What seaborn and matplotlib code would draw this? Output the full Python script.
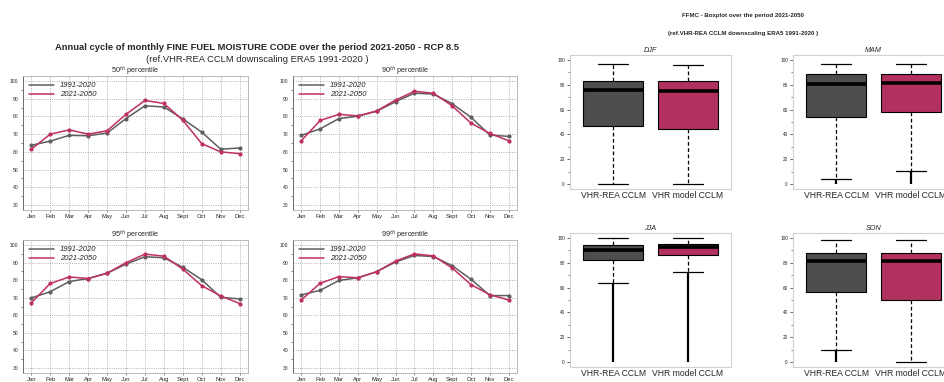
import numpy as np
import pandas as pd
import matplotlib
matplotlib.use('Agg')
import matplotlib.pyplot as plt
import seaborn as sns

# dati
months = ['Jan', 'Feb', 'Mar', 'Apr', 'May', 'Jun', 'Jul', 'Aug', 'Sept', 'Oct', 'Nov', 'Dec']
periods = ['1991-2020', '2021-2050']
pct_titles = ['50$^{th}$ percentile', '90$^{th}$ percentile', '95$^{th}$ percentile', '99$^{th}$ percentile']

p50_ref = [63.7, 66.1, 69.3, 69.1, 70.6, 78.8, 86.0, 85.3, 78.6, 71.1, 61.5, 62.2]
p50_fut = [61.5, 70.0, 72.4, 70.0, 71.9, 81.2, 89.0, 87.3, 77.8, 64.6, 60.0, 59.0]
p90_ref = [69.3, 73.0, 78.8, 80.1, 82.9, 88.3, 93.1, 92.6, 87.2, 79.5, 69.5, 68.7]
p90_fut = [66.3, 77.7, 81.2, 80.3, 83.1, 89.2, 94.2, 93.1, 86.0, 76.2, 70.4, 66.3]
p95_ref = [69.9, 73.4, 79.2, 80.9, 83.9, 89.1, 93.3, 92.7, 87.3, 80.2, 70.2, 69.3]
p95_fut = [67.1, 78.1, 81.8, 80.9, 83.9, 89.9, 94.8, 93.6, 86.2, 76.8, 71.0, 66.7]
p99_ref = [71.6, 74.2, 79.8, 81.3, 84.8, 90.3, 94.0, 93.4, 88.2, 80.5, 71.2, 71.2]
p99_fut = [68.7, 78.2, 82.0, 81.3, 84.8, 90.8, 94.9, 93.8, 86.9, 77.4, 71.7, 68.7]

seasons = ['DJF', 'MAM', 'JJA', 'SON']
box_labels = ['VHR-REA CCLM', 'VHR model CCLM']
# per stagione: [REA, model]
box_whislo = {'DJF': [0.0, 0.0], 'MAM': [3.8, 10.5], 'JJA': [63.8, 72.7], 'SON': [9.4, 0.0]}
box_q1 = {'DJF': [46.4, 44.5], 'MAM': [54.4, 57.7], 'JJA': [81.9, 85.9], 'SON': [56.8, 49.6]}
box_med = {'DJF': [75.5, 74.7], 'MAM': [80.9, 81.4], 'JJA': [90.5, 92.7], 'SON': [81.5, 81.8]}
box_q3 = {'DJF': [82.7, 82.7], 'MAM': [88.7, 88.9], 'JJA': [94.6, 94.9], 'SON': [88.2, 88.2]}
box_whishi = {'DJF': [96.8, 96.2], 'MAM': [97.0, 97.0], 'JJA': [100.0, 100.0], 'SON': [98.1, 98.1]}
box_outmin = {'DJF': [None, None], 'MAM': [0.0, 0.0], 'JJA': [0.0, 0.0], 'SON': [0.0, None]}

grey = '#5e5e5e'
red = '#c0305c'
box_grey = '#4d4d4d'
box_red = '#b03060'

sns.set_style('white')
plt.rcParams['font.family'] = ['Liberation Sans', 'DejaVu Sans']
plt.rcParams['mathtext.fontset'] = 'custom'
plt.rcParams['mathtext.rm'] = 'Liberation Sans'

fig = plt.figure(figsize=(9.44, 3.82), dpi=100)

W, H = 944, 382


def add_ax(x0, y0, x1, y1):
    return fig.add_axes([x0 / W, 1 - y1 / H, (x1 - x0) / W, (y1 - y0) / H])


# --- cicli annuali ---
line_pos = [(23, 76, 248, 210), (293, 76, 517, 210), (23, 240, 248, 373), (293, 240, 517, 373)]
line_data = [(p50_ref, p50_fut), (p90_ref, p90_fut), (p95_ref, p95_fut), (p99_ref, p99_fut)]

for pos, (ref, fut), ttl in zip(line_pos, line_data, pct_titles):
    ax = add_ax(*pos)
    df = pd.DataFrame({'month': list(range(1, 13)) * 2,
                       'value': ref + fut,
                       'period': [periods[0]] * 12 + [periods[1]] * 12})
    sns.lineplot(data=df, x='month', y='value', hue='period', palette=[grey, red],
                 marker='o', markersize=3, markeredgewidth=0, linewidth=1.1, ax=ax)
    ax.set_xlim(0.56, 12.44)
    ax.set_ylim(27.2, 102.8)
    ax.set_xticks(range(1, 13))
    ax.set_xticklabels(months, fontsize=4.2)
    ax.set_yticks(range(30, 101, 10))
    ax.set_yticks(range(35, 100, 10), minor=True)
    ax.tick_params(axis='y', labelsize=3.6, length=2, width=0.5, which='major', pad=1.5)
    ax.tick_params(axis='y', length=1.2, width=0.4, which='minor', left=True)
    ax.tick_params(axis='x', length=1.5, width=0.4, pad=1.5, bottom=True)
    ax.grid(True, linestyle=':', color='#9a9a9a', linewidth=0.6)
    for s in ax.spines.values():
        s.set_color('#b0b0b0')
        s.set_linewidth(0.6)
    ax.spines['left'].set_color('#555555')
    ax.set_xlabel('')
    ax.set_ylabel('')
    ax.set_title(ttl, fontsize=5.2, pad=2)
    leg = ax.legend(loc='upper left', frameon=False, prop={'size': 5.5, 'style': 'italic'},
                    handlelength=3.2, borderaxespad=0.4, labelspacing=0.2)
    for h in leg.legend_handles:
        h.set_marker('')

fig.text(257 / W, 1 - 47 / H, 'Annual cycle of monthly FINE FUEL MOISTURE CODE over the period 2021-2050 - RCP 8.5',
         ha='center', va='center', fontsize=6.75, fontweight='bold')
fig.text(257 / W, 1 - 59 / H, '(ref.VHR-REA CCLM downscaling ERA5 1991-2020 )',
         ha='center', va='center', fontsize=6.75)

# --- boxplot stagionali ---
box_pos = {'DJF': (570, 55, 731, 189), 'MAM': (793, 55, 954, 189),
           'JJA': (570, 233, 731, 367), 'SON': (793, 233, 954, 367)}

for s in seasons:
    ax = add_ax(*box_pos[s])
    stats = []
    for i in range(2):
        stats.append({'med': box_med[s][i], 'q1': box_q1[s][i], 'q3': box_q3[s][i],
                      'whislo': box_whislo[s][i], 'whishi': box_whishi[s][i], 'fliers': []})
    bp = ax.bxp(stats, positions=[1, 2], widths=0.8, capwidths=0.4, patch_artist=True,
                showfliers=False,
                boxprops=dict(edgecolor='black', linewidth=0.8),
                medianprops=dict(color='black', linewidth=2.6, solid_capstyle='butt'),
                whiskerprops=dict(color='black', linestyle=(0, (3, 2)), linewidth=0.9),
                capprops=dict(color='black', linewidth=0.9))
    for patch, c in zip(bp['boxes'], [box_grey, box_red]):
        patch.set_facecolor(c)
    for i in range(2):
        lo = box_outmin[s][i]
        if lo is not None:
            ax.vlines(i + 1, lo, box_whislo[s][i], color='black', linewidth=1.6)
    ax.set_xlim(0.42, 2.58)
    ax.set_ylim(-4, 104)
    ax.set_xticks([1, 2])
    ax.set_xticklabels(box_labels, fontsize=6.2)
    ax.tick_params(axis='x', length=0, pad=1.5)
    ax.set_yticks(range(0, 101, 20))
    ax.set_yticks(range(10, 100, 20), minor=True)
    ax.tick_params(axis='y', which='major', labelsize=3.4, length=2.2, width=0.5, pad=1.5, left=True)
    ax.tick_params(axis='y', which='minor', length=1.2, width=0.4, left=True)
    for sp in ax.spines.values():
        sp.set_color('#d0d0d0')
        sp.set_linewidth(0.8)
    ax.set_title(s, fontsize=5.2, style='italic', pad=2)

fig.text(743 / W, 1 - 16 / H, 'FFMC - Boxplot over the period 2021-2050',
         ha='center', va='center', fontsize=4.4, fontweight='bold')
fig.text(743 / W, 1 - 33 / H, '(ref.VHR-REA CCLM downscaling ERA5 1991-2020 )',
         ha='center', va='center', fontsize=4.4, fontweight='bold')

fig.savefig('out.png', dpi=100)
